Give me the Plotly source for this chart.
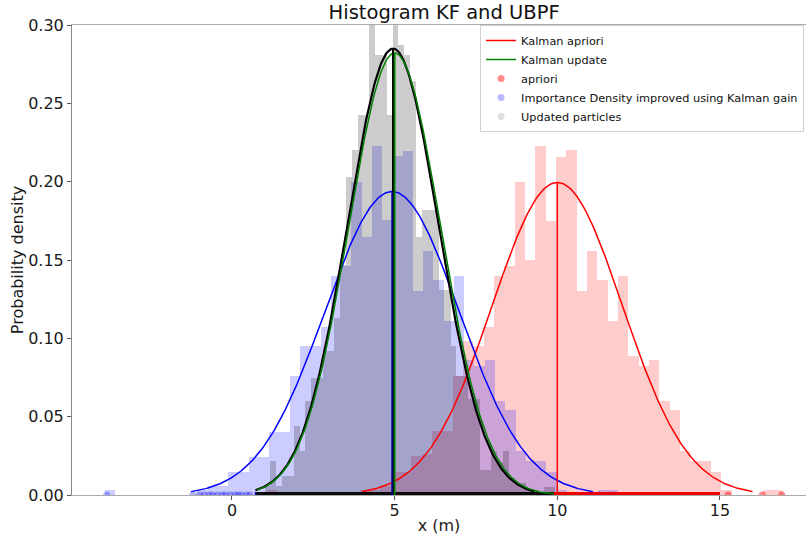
import numpy as np
import plotly.graph_objects as go

# ---------------- data ----------------
# histogram bins (start, width) and densities (50 bins each)
red_bin_start, red_bin_width = 1.07, 0.3176
red_density = [0.003, 0, 0, 0, 0, 0, 0, 0, 0, 0.003,
               0.003, 0.006, 0.015, 0.015, 0.025, 0.026, 0.041, 0.041, 0.076, 0.098,
               0.095, 0.107, 0.140, 0.146, 0.200, 0.150, 0.223, 0.175, 0.216, 0.220,
               0.130, 0.156, 0.137, 0.111, 0.140, 0.089, 0.0825, 0.086, 0.060, 0.054,
               0.028, 0.022, 0.022, 0.015, 0.003, 0, 0, 0, 0.003, 0.003]

blue_bin_start, blue_bin_width = -3.90, 0.3154
blue_density = [0.003, 0, 0, 0, 0, 0, 0, 0, 0, 0.003,
                0.006, 0.006, 0.015, 0.015, 0.0245, 0.0245, 0.040, 0.040, 0.076, 0.095,
                0.095, 0.107, 0.140, 0.146, 0.200, 0.165, 0.223, 0.1755, 0.2164, 0.2196,
                0.130, 0.156, 0.137, 0.111, 0.140, 0.086, 0.0825, 0.086, 0.060, 0.054,
                0.028, 0.022, 0.022, 0.015, 0.003, 0, 0, 0, 0.003, 0.003]

gray_bin_start, gray_bin_width = 1.005, 0.1786
gray_density = [0.006, 0.022, 0.006, 0.012, 0.012, 0.044, 0.028, 0.060, 0.075, 0.075,
                0.092, 0.092, 0.113, 0.147, 0.203, 0.220, 0.2425, 0.2425, 0.31, 0.281,
                0.281, 0.2425, 0.31, 0.287, 0.281, 0.264, 0.165, 0.182, 0.182, 0.182,
                0.131, 0.131, 0.095, 0.076, 0.076, 0.061, 0.061, 0.016, 0.016, 0.028,
                0.021, 0.028, 0.011, 0.0075, 0.0075, 0.003, 0.003, 0, 0.0053, 0.0053]

# Gaussian estimates: mean, std, x-range of drawn curve
kalman_apriori = dict(mean=10.0, std=2.0, xr=[4.0, 16.0])
kalman_update = dict(mean=5.0, std=1.414, xr=[0.76, 9.9])
importance = dict(mean=4.92, std=2.06, xr=[-1.26, 11.1])
particle_est = dict(mean=4.95, std=1.40, xr=[0.72, 9.3])

# particle rugs at y = 0: dense span + isolated particles
red_rug_span = [4.4, 15.0]
red_rug_points = [4.1, 4.25, 15.25, 16.3, 16.9]
blue_rug_span = [0.7, 11.0]
blue_rug_points = [-3.85, -1.2, -1.0, -0.85, -0.7, -0.6, -0.45, -0.3, -0.2, -0.05, 0.1, 0.2,
                   0.3, 0.45, 0.55, 11.3, 11.65]
gray_rug_span = [0.75, 9.9]

x_ticks = [0, 5, 10, 15]

# ---------------- figure ----------------
def centers(start, width, n):
    return start + width * (np.arange(n) + 0.5)

def pdf(p, n=300):
    xs = np.linspace(p["xr"][0], p["xr"][1], n)
    ys = np.exp(-0.5 * ((xs - p["mean"]) / p["std"]) ** 2) / (p["std"] * np.sqrt(2 * np.pi))
    return xs, ys

def peak(p):
    return 1.0 / (p["std"] * np.sqrt(2 * np.pi))

fig = go.Figure()

for start, width, dens, col in [
    (red_bin_start, red_bin_width, red_density, "rgba(255,0,0,0.2)"),
    (blue_bin_start, blue_bin_width, blue_density, "rgba(0,0,255,0.2)"),
    (gray_bin_start, gray_bin_width, gray_density, "rgba(0,0,0,0.2)"),
]:
    fig.add_trace(go.Bar(x=centers(start, width, len(dens)), y=dens, width=width,
                         marker=dict(color=col, line=dict(width=0)),
                         showlegend=False, hoverinfo="skip"))

# rugs (blue, red, gray)
fig.add_trace(go.Scatter(x=blue_rug_span, y=[0, 0], mode="lines",
                         line=dict(color="rgb(0,0,180)", width=6), showlegend=False))
fig.add_trace(go.Scatter(x=blue_rug_points, y=[0] * len(blue_rug_points), mode="markers",
                         marker=dict(color="rgba(0,0,255,0.3)", size=7), showlegend=False))
fig.add_trace(go.Scatter(x=red_rug_span, y=[0, 0], mode="lines",
                         line=dict(color="rgb(235,0,0)", width=6), showlegend=False))
fig.add_trace(go.Scatter(x=red_rug_points, y=[0] * len(red_rug_points), mode="markers",
                         marker=dict(color="rgba(255,0,0,0.45)", size=7), showlegend=False))
fig.add_trace(go.Scatter(x=gray_rug_span, y=[0, 0], mode="lines",
                         line=dict(color="rgb(10,10,10)", width=6), showlegend=False))

# curves
xs, ys = pdf(kalman_apriori)
fig.add_trace(go.Scatter(x=xs, y=ys, mode="lines", line=dict(color="red", width=1.5),
                         name="Kalman apriori", legendrank=1))
xs, ys = pdf(importance)
fig.add_trace(go.Scatter(x=xs, y=ys, mode="lines", line=dict(color="blue", width=1.5),
                         showlegend=False))
xs, ys = pdf(particle_est)
fig.add_trace(go.Scatter(x=xs, y=ys, mode="lines", line=dict(color="black", width=2.2),
                         showlegend=False))
xs, ys = pdf(kalman_update)
fig.add_trace(go.Scatter(x=xs, y=ys, mode="lines", line=dict(color="green", width=1.5),
                         name="Kalman update", legendrank=2))

# vertical mean lines
for p, col, w in [(kalman_apriori, "red", 1.5), (particle_est, "black", 2.0),
                  (importance, "#0000b0", 1.5), (kalman_update, "green", 1.8)]:
    fig.add_trace(go.Scatter(x=[p["mean"], p["mean"]], y=[0, peak(p)], mode="lines",
                             line=dict(color=col, width=w), showlegend=False))

# legend-only marker entries
for name, col, rank in [("apriori", "rgba(255,0,0,0.45)", 3),
                        ("Importance Density improved using Kalman gain", "rgba(0,0,255,0.28)", 4),
                        ("Updated particles", "rgba(0,0,0,0.13)", 5)]:
    fig.add_trace(go.Scatter(x=[None], y=[None], mode="markers",
                             marker=dict(color=col, size=7), name=name, legendrank=rank))

fig.update_layout(
    width=806, height=540,
    margin=dict(l=72, r=0, t=25, b=45, autoexpand=False),
    plot_bgcolor="white", paper_bgcolor="white",
    barmode="overlay", bargap=0,
    font=dict(family="DejaVu Sans", color="#1a1a1a", size=16),
    title=dict(text="Histogram KF and UBPF", font=dict(size=19.5, color="#111"),
               x=0.507, xref="paper", xanchor="center", y=0.977, yref="container",
               yanchor="middle"),
    legend=dict(x=0.556, y=1.0, xanchor="left", yanchor="top",
                bgcolor="rgba(255,255,255,0.85)", bordercolor="#d0d0d0", borderwidth=1,
                font=dict(size=11.3, color="#111"), itemwidth=30, tracegroupgap=0),
    showlegend=True,
)
fig.update_xaxes(range=[-4.918, 17.645], tickvals=x_ticks, ticks="outside", ticklen=4,
                 tickcolor="#555", showgrid=False, zeroline=False, showline=True,
                 linecolor="#aaaaaa", linewidth=1, mirror=True, automargin=False,
                 ticklabelstandoff=-3,
                 title=dict(text="x (m)", font=dict(size=16), standoff=0),
                 tickfont=dict(size=16))
fig.update_yaxes(range=[0, 0.30], dtick=0.05, tickformat=".2f", ticks="outside", ticklen=4,
                 tickcolor="#555", showgrid=False, zeroline=False, showline=True,
                 linecolor="#888888", linewidth=1, automargin=False,
                 title=dict(text="Probability density", font=dict(size=16), standoff=0),
                 tickfont=dict(size=16))

fig.write_html("out.html")
